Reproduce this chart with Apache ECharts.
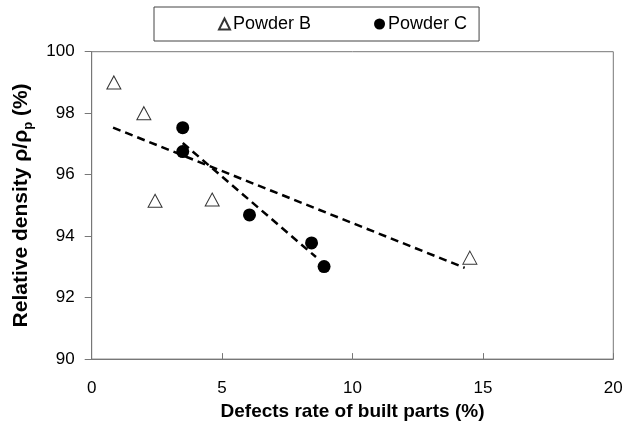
<!DOCTYPE html>
<html>
<head>
<meta charset="utf-8">
<script src="https://cdn.jsdelivr.net/npm/echarts@6/dist/echarts.min.js"></script>
<style>html,body{margin:0;padding:0;background:#fff}#c{width:627px;height:426px}</style>
</head>
<body>
<div id="c"></div>
<script>
var powderB_x = [0.85, 2.0, 2.43, 4.62, 14.5];
var powderB_y = [99.0, 98.0, 95.15, 95.19, 93.3];
var powderC_x = [3.49, 3.49, 6.05, 8.43, 8.91];
var powderC_y = [97.53, 96.75, 94.69, 93.78, 93.01];
var trendB_x = [0.82, 14.3];
var trendB_y = [97.53, 92.97];
var trendC_x = [3.49, 8.6];
var trendC_y = [97.03, 93.32];
var xTicks = [0, 5, 10, 15, 20];
var yTicks = [90, 92, 94, 96, 98, 100];

function zip(a, b) { return a.map(function (v, i) { return [v, b[i]]; }); }

var FONT = 'Liberation Sans';
var chart = echarts.init(document.getElementById('c'), null, {renderer: 'canvas'});
chart.setOption({
  animation: false,
  backgroundColor: '#fff',
  textStyle: {fontFamily: FONT},
  grid: {left: 91.7, right: 13.7, top: 51.7, bottom: 62, show: true, borderColor: '#777', borderWidth: 1, backgroundColor: 'transparent'},
  legend: {
    left: 154, top: 7,
    padding: [8, 12, 8, 64],
    borderColor: '#444', borderWidth: 1,
    itemGap: 63, itemWidth: 11, itemHeight: 11,
    textStyle: {fontSize: 18, color: '#000', fontFamily: FONT, padding: [0, 0, 0, -2]},
    data: ['Powder B', 'Powder C']
  },
  xAxis: {
    type: 'value', min: xTicks[0], max: xTicks[xTicks.length - 1], interval: 5,
    axisLine: {show: true, lineStyle: {color: '#777', width: 1}},
    axisTick: {show: true, inside: true, length: 6, lineStyle: {color: '#777'}},
    axisLabel: {fontSize: 17, color: '#000', margin: 21, fontFamily: FONT},
    splitLine: {show: false},
    name: 'Defects rate of built parts (%)', nameLocation: 'middle', nameGap: 37,
    nameTextStyle: {fontSize: 19, fontWeight: 'bold', color: '#000', fontFamily: FONT}
  },
  yAxis: {
    type: 'value', min: yTicks[0], max: yTicks[yTicks.length - 1], interval: 2,
    axisLine: {show: true, lineStyle: {color: '#777', width: 1}},
    axisTick: {show: true, inside: false, length: 7, lineStyle: {color: '#777'}},
    axisLabel: {fontSize: 17, color: '#000', margin: 17, fontFamily: FONT},
    splitLine: {show: false},
    name: '{a|Relative density ρ/ρ}{b|p}{a| (%)}', nameLocation: 'middle', nameGap: 58, nameRotate: 90,
    nameTextStyle: {
      color: '#000', fontFamily: FONT,
      rich: {
        a: {fontSize: 21, fontWeight: 'bold', color: '#000', fontFamily: FONT, lineHeight: 23, verticalAlign: 'top'},
        b: {fontSize: 13, fontWeight: 'bold', color: '#000', fontFamily: FONT, lineHeight: 13, verticalAlign: 'top', padding: [11, 0, 0, 0]}
      }
    }
  },
  series: [
    {
      name: 'Powder B', type: 'scatter', symbol: 'triangle', symbolSize: [14, 13],
      itemStyle: {color: '#fff', borderColor: '#000', borderWidth: 1},
      data: zip(powderB_x, powderB_y), z: 2
    },
    {
      name: 'Powder C', type: 'scatter', symbol: 'circle', symbolSize: 13,
      itemStyle: {color: '#000', opacity: 1},
      data: zip(powderC_x, powderC_y), z: 2
    },
    {
      name: 'trendB', type: 'line', symbol: 'none', silent: true,
      lineStyle: {color: '#000', width: 2.5, type: [8, 5]},
      data: zip(trendB_x, trendB_y), z: 3
    },
    {
      name: 'trendC', type: 'line', symbol: 'none', silent: true,
      lineStyle: {color: '#000', width: 2.5, type: [8, 5]},
      data: zip(trendC_x, trendC_y), z: 3
    }
  ]
});
</script>
</body>
</html>
